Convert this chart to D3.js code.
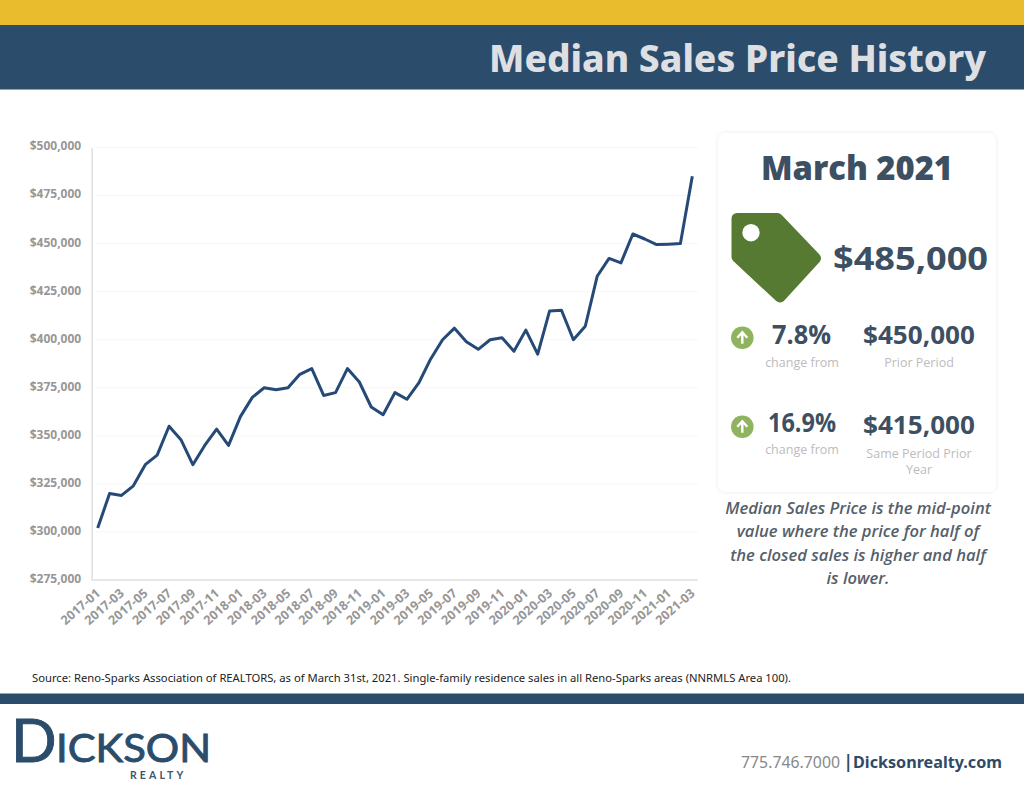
<!DOCTYPE html>
<html><head><meta charset="utf-8">
<script src="https://cdnjs.cloudflare.com/ajax/libs/d3/7.8.5/d3.min.js"></script>
<style>
html,body{margin:0;padding:0;background:#fff}
svg{display:block}
text{font-family:"Open Sans",sans-serif}
.y-axis path,.x-axis path{stroke:#dfdfdf;stroke-width:1.5}
.y-axis line,.x-axis line{display:none}
.y-axis text,.x-axis text{fill:#979797;font-weight:700;font-family:"Open Sans",sans-serif}
.y-axis text{font-size:12px}
.x-axis text{font-size:12.6px}
</style></head><body>
<script>
const months = ["2017-01","2017-02","2017-03","2017-04","2017-05","2017-06","2017-07","2017-08","2017-09","2017-10","2017-11","2017-12",
"2018-01","2018-02","2018-03","2018-04","2018-05","2018-06","2018-07","2018-08","2018-09","2018-10","2018-11","2018-12",
"2019-01","2019-02","2019-03","2019-04","2019-05","2019-06","2019-07","2019-08","2019-09","2019-10","2019-11","2019-12",
"2020-01","2020-02","2020-03","2020-04","2020-05","2020-06","2020-07","2020-08","2020-09","2020-10","2020-11","2020-12",
"2021-01","2021-02","2021-03"];
const prices = [302000,320000,319000,324000,335000,340000,355000,348000,335000,345000,353500,345000,
360000,370000,375000,374000,375000,382000,385000,371000,372500,385000,378000,365000,
361000,372500,369000,377500,390000,400000,406000,399000,395000,400000,401000,394000,
405000,392500,415000,415300,400000,407000,433000,442300,440000,455000,452400,449500,
449700,450000,485000];
const yTicks = [275000,300000,325000,350000,375000,400000,425000,450000,475000,500000];
const xTickLabels = months.filter((m,i)=>i%2===0);

const svg = d3.select("body").append("svg").attr("width",1024).attr("height",791);
const navy="#2b4c6b";
svg.append("rect").attr("width",1024).attr("height",25).attr("fill","#e8bc2c");
svg.append("rect").attr("y",25).attr("width",1024).attr("height",64.5).attr("fill",navy);
svg.append("rect").attr("y",693.5).attr("width",1024).attr("height",10.5).attr("fill",navy);

function t(x,y,s,size,fill,weight,anchor,len,extra){
  const e=svg.append("text").attr("x",x).attr("y",y).text(s).attr("font-size",size).attr("fill",fill)
    .attr("font-weight",weight||400).attr("text-anchor",anchor||"start");
  if(len) e.attr("textLength",len).attr("lengthAdjust","spacingAndGlyphs");
  if(extra) for(const k in extra) e.style(k,extra[k]);
  return e;
}
t(489,72,"Median Sales Price History",38,"#dddfe3",800,"start",497,{"font-family":"'Noto Sans',sans-serif"});

// chart
const x = d3.scalePoint().domain(months).range([97.7,692.3]);
const y = d3.scaleLinear().domain([275000,500000]).range([580,147.5]);
const fmt = d=>"$"+d3.format(",")(d);

svg.append("g").selectAll("line").data(yTicks.slice(1)).join("line")
  .attr("x1",95).attr("x2",698).attr("y1",d=>y(d)).attr("y2",d=>y(d))
  .attr("stroke","#f6f6f6").attr("stroke-width",1);

const gy = svg.append("g").attr("class","y-axis").attr("transform","translate(91.7,0)")
  .call(d3.axisLeft(y).tickValues(yTicks).tickFormat(fmt).tickSize(0).tickPadding(10.5));
gy.selectAll("text").attr("dy","0.2em");
const gx = svg.append("g").attr("class","x-axis").attr("transform","translate(0,580)")
  .call(d3.axisBottom(x).tickValues(xTickLabels).tickSize(0));
gx.attr("font-size",null);
gx.select("path").attr("d","M91.7,0H698");
gx.selectAll("text").attr("text-anchor","end").attr("dy",0).attr("y",0).attr("x",0)
  .attr("transform","translate(3,14.5) rotate(-41)");

svg.append("path").datum(months.map((m,i)=>[m,prices[i]]))
  .attr("d",d3.line().x(d=>x(d[0])).y(d=>y(d[1])))
  .attr("fill","none").attr("stroke","#254a77").attr("stroke-width",3).attr("stroke-linejoin","round");

// card
const defs=svg.append("defs");
const f=defs.append("filter").attr("id","sh").attr("x","-5%").attr("y","-5%").attr("width","110%").attr("height","110%");
f.append("feDropShadow").attr("dx",0).attr("dy",0).attr("stdDeviation",2).attr("flood-color","#000").attr("flood-opacity",0.09);
svg.append("rect").attr("x",718).attr("y",133).attr("width",278).attr("height",359).attr("rx",8).attr("fill","#fff").attr("filter","url(#sh)");

const ink="#3d4f62";
t(857,180,"March 2021",33,ink,800,"middle",192);
svg.append("path").attr("d","M737,218.5H777.5L815.5,258.3L780,297L737,257Z")
  .attr("fill","#567a32").attr("stroke","#567a32").attr("stroke-width",11).attr("stroke-linejoin","round");
svg.append("circle").attr("cx",751).attr("cy",232.7).attr("r",8.7).attr("fill","#fff");
t(833,270,"$485,000",33,ink,700,"start",155);

function arrow(cy){
  svg.append("circle").attr("cx",742.3).attr("cy",cy).attr("r",11.3).attr("fill","#8fb35e");
  svg.append("path").attr("d",`M742.3,${cy+6}V${cy-5}M737.3,${cy}L742.3,${cy-5.5}L747.3,${cy}`)
    .attr("fill","none").attr("stroke","#fff").attr("stroke-width",2.4);
}
arrow(337.7); arrow(426.7);
t(801.5,344,"7.8%",26,ink,700,"middle",59);
t(919,344,"$450,000",25.5,ink,700,"middle",112);
t(802,432,"16.9%",26,ink,700,"middle",68);
t(919,434,"$415,000",25.5,ink,700,"middle",112);
const lab="#bcbcbc";
t(802,367,"change from",12.5,lab,400,"middle");
t(802,454,"change from",12.5,lab,400,"middle");
t(919,367,"Prior Period",12.5,lab,400,"middle");
t(919,458,"Same Period Prior",12.5,lab,400,"middle");
t(919,474,"Year",12.5,lab,400,"middle");

const noteLines=["Median Sales Price is the mid-point","value where the price for half of","the closed sales is higher and half","is lower."];
const noteY=[514,537.3,560.7,584];
noteLines.forEach((s,i)=>t(858,noteY[i],s,16.6,"#565f6b",600,"middle",null,{"font-style":"italic"}));

t(32,682,"Source: Reno-Sparks Association of REALTORS, as of March 31st, 2021. Single-family residence sales in all Reno-Sparks areas (NNRMLS Area 100).",10.8,"#222",400,"start",759,{"font-family":"'Noto Sans',sans-serif"});

// logo
const logoStroke={"font-family":"Lato,sans-serif","stroke":"#2b4c6b","stroke-width":"0.9px"};
t(11,762,"D",60,"#2b4c6b",400,"start",null,logoStroke);
t(56,762,"ICKSON",39,"#2b4c6b",400,"start",155,logoStroke);
t(130,778.5,"REALTY",10.5,"#3f566c",700,"start",null,{"font-family":"Lato,sans-serif","letter-spacing":"3.1px"});

t(741,768,"775.746.7000",16,"#888",400,"start",99,{"font-family":"'Noto Sans',sans-serif"});
t(843.5,768,"|",17,"#2f4a66",700,"start",null,{"font-family":"'Noto Sans',sans-serif"});
t(853,768,"Dicksonrealty.com",16,"#2f4a66",700,"start",149,{"font-family":"'Noto Sans',sans-serif"});
</script>
</body></html>
